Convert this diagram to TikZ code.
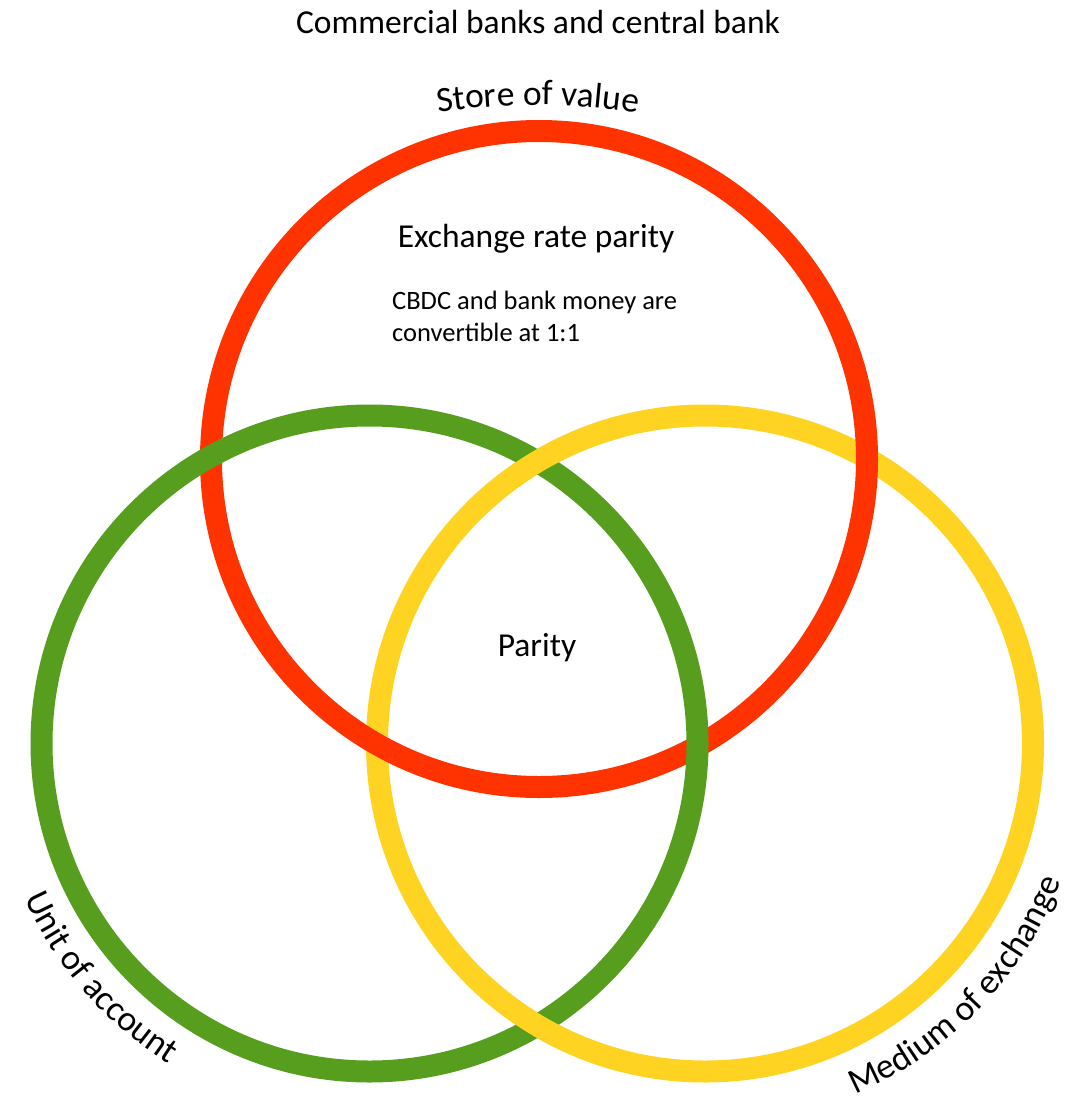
\documentclass[tikz,border=0pt]{standalone}
\usepackage{fontspec}
\setmainfont{Carlito}
\usetikzlibrary{decorations.text}
\definecolor{ringred}{HTML}{FF3300}
\definecolor{ringgreen}{HTML}{589E1E}
\definecolor{ringyellow}{HTML}{FFD322}
\newcommand\fsBig{\fontsize{33.5}{40}\selectfont}
\newcommand\fsCurve{\fontsize{35.5}{42}\selectfont}
\newcommand\fsSmall{\fontsize{26.5}{32}\selectfont}
\begin{document}
\begin{tikzpicture}[x=1pt,y=-1pt,
  ring/.style={line width=22pt},
  bigtext/.style={font=\fsBig, inner sep=0pt},
  curvetext/.style={decorate, decoration={text along path, text align=center, text={|\fsCurve|#1}}}]
\useasboundingbox (0,0) rectangle (1091,1105);
\coordinate (cR) at (539,459);
\coordinate (cG) at (369.5,743.5);
\coordinate (cY) at (705,743.5);
% rings (woven: red over yellow, green over red, yellow over green)
\draw[ring, ringyellow] (cY) circle[radius=328];
\draw[ring, ringred] (cR) circle[radius=328];
\draw[ring, ringgreen] (cG) circle[radius=328];
\draw[ring, ringyellow, shift={(705,743.5)}] (225:328) arc[start angle=225, end angle=255, radius=328];
\draw[ring, ringyellow, shift={(705,743.5)}] (105:328) arc[start angle=105, end angle=135, radius=328];
% texts
\node[bigtext] (title) at (538,22) {Commercial banks and central bank};
\node[bigtext] (erp) at (536,239) {Exchange rate parity};
\node[font=\fsSmall, align=left, anchor=west, inner sep=0pt] (cbdc) at (392,316) {CBDC and bank money are\\convertible at 1:1};
\node[bigtext] (parity) at (537,648) {Parity};
% curved labels
\path[shift={(538,750)}, curvetext=Store of value] (250:645) arc[start angle=250, end angle=290, radius=645];
\path[shift={(369.5,743.5)}, curvetext=Unit of account] (172:378) arc[start angle=172, end angle=106, radius=378];
\path[shift={(705,743.5)}, curvetext=Medium of exchange] (82:382) arc[start angle=82, end angle=6, radius=382];
\end{tikzpicture}
\end{document}
